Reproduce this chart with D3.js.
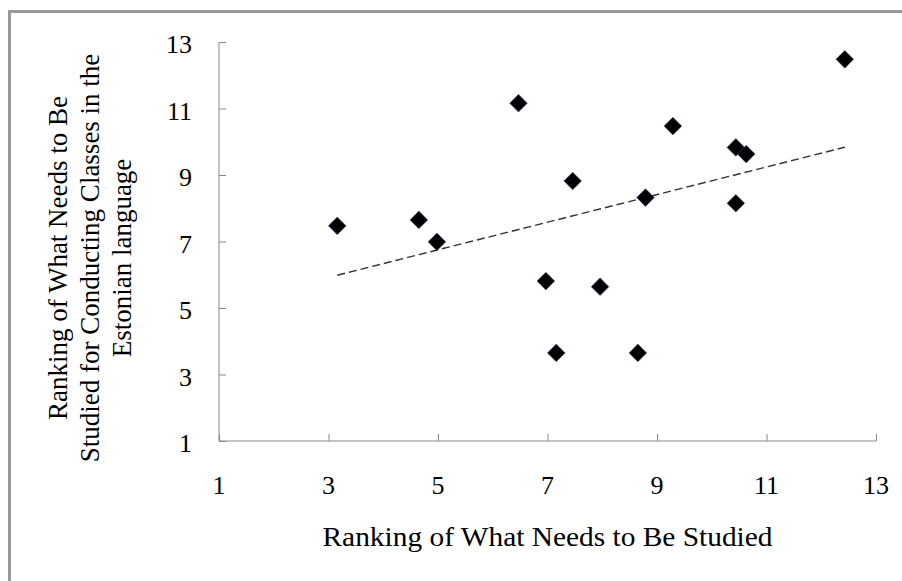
<!DOCTYPE html>
<html>
<head>
<meta charset="utf-8">
<script src="https://cdn.jsdelivr.net/npm/d3@7"></script>
<style>
  body { margin: 0; background: #fff; }
</style>
</head>
<body>
<div id="chart"></div>
<script>
// valeurs
const rankStudied = [3.16, 4.65, 4.98, 6.47, 6.97, 7.16, 7.46, 7.96, 8.65, 8.79, 9.29, 10.44, 10.44, 10.63, 12.43];
const rankEstonian = [7.47, 7.65, 6.99, 11.16, 5.81, 3.65, 8.82, 5.64, 3.65, 8.32, 10.47, 9.83, 8.15, 9.63, 12.48];
const tickValues = [1, 3, 5, 7, 9, 11, 13];
const xTitle = "Ranking of What Needs to Be Studied";
const yTitleLines = ["Ranking of What Needs to Be", "Studied for Conducting Classes in the", "Estonian language"];

const width = 902;
const height = 581;
const margin = { left: 219, right: 26, top: 42, bottom: 140 };
const serif = "'Liberation Serif', 'Times New Roman', Times, 'DejaVu Serif', serif";
const fontSize = 26;

const svg = d3.select("#chart")
    .append("svg")
    .attr("width", width)
    .attr("height", height)
    .attr("font-family", serif);

// cadre gris (seulement haut et gauche visibles)
svg.append("path")
    .attr("d", `M9.5,${height} L9.5,11.5 L${width},11.5`)
    .attr("fill", "none")
    .attr("stroke", "#999")
    .attr("stroke-width", 3);

const x = d3.scaleLinear().domain([1, 13]).range([margin.left, width - margin.right]);
const y = d3.scaleLinear().domain([1, 13]).range([height - margin.bottom, margin.top]);

const axisColor = "#888";

const xAxis = svg.append("g")
    .attr("transform", `translate(0,${y(1)})`)
    .call(d3.axisTop(x).tickValues(tickValues).tickSize(7).tickFormat(""));
xAxis.selectAll("line, path").attr("stroke", axisColor);
xAxis.select(".domain").attr("d", `M${x(1)},0H${x(13)}`);

const yAxis = svg.append("g")
    .attr("transform", `translate(${x(1)},0)`)
    .call(d3.axisRight(y).tickValues(tickValues).tickSize(7).tickFormat(""));
yAxis.selectAll("line, path").attr("stroke", axisColor);
yAxis.select(".domain").attr("d", `M0,${y(13)}V${y(1)}`);

// étiquettes des graduations
svg.append("g").selectAll("text")
    .data(tickValues)
    .join("text")
    .attr("x", d => x(d))
    .attr("y", y(1) + 44)
    .attr("dy", "0.35em")
    .attr("text-anchor", "middle")
    .attr("font-family", serif)
    .attr("font-size", fontSize)
    .text(d => d);

svg.append("g").selectAll("text")
    .data(tickValues)
    .join("text")
    .attr("x", x(1) - 27)
    .attr("y", d => y(d) + 2)
    .attr("dy", "0.35em")
    .attr("text-anchor", "end")
    .attr("font-family", serif)
    .attr("font-size", fontSize)
    .text(d => d);

// droite de tendance (moindres carrés)
const mx = d3.mean(rankStudied);
const my = d3.mean(rankEstonian);
const sxy = d3.sum(rankStudied, (v, i) => (v - mx) * (rankEstonian[i] - my));
const sxx = d3.sum(rankStudied, v => (v - mx) * (v - mx));
const slope = sxy / sxx;
const intercept = my - slope * mx;
const [x0, x1] = d3.extent(rankStudied);

svg.append("line")
    .attr("x1", x(x0))
    .attr("y1", y(intercept + slope * x0))
    .attr("x2", x(x1))
    .attr("y2", y(intercept + slope * x1))
    .attr("stroke", "#333")
    .attr("stroke-width", 1.4)
    .attr("stroke-dasharray", "8,4");

// points
const points = rankStudied.map((v, i) => ({ x: v, y: rankEstonian[i] }));
svg.append("g").selectAll("path")
    .data(points)
    .join("path")
    .attr("transform", d => `translate(${x(d.x)},${y(d.y)})`)
    .attr("d", d3.symbol(d3.symbolDiamond2, 200))
    .attr("fill", "#000")
    .attr("stroke", "#3a5a8c")
    .attr("stroke-width", 0.6);

// titres des axes
svg.append("text")
    .attr("x", (x(1) + x(13)) / 2)
    .attr("y", 537)
    .attr("dy", "0.35em")
    .attr("text-anchor", "middle")
    .attr("font-family", serif)
    .attr("font-size", 27)
    .attr("textLength", 450)
    .attr("lengthAdjust", "spacingAndGlyphs")
    .text(xTitle);

const yTitle = svg.append("text")
    .attr("transform", "translate(90,258) rotate(-90)")
    .attr("text-anchor", "middle")
    .attr("font-family", serif)
    .attr("font-size", 27);
yTitle.selectAll("tspan")
    .data(yTitleLines)
    .join("tspan")
    .attr("x", 0)
    .attr("y", (d, i) => (i - 1) * 32)
    .attr("dy", "0.35em")
    .text(d => d);
</script>
</body>
</html>
